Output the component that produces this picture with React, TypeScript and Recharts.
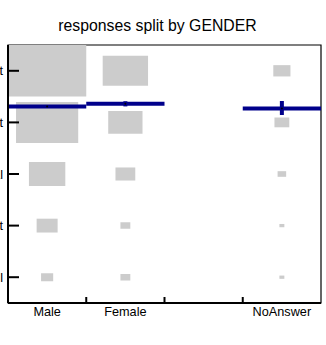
import React from "react";
import {
  ComposedChart,
  XAxis,
  YAxis,
  ReferenceArea,
  ReferenceLine,
  ReferenceDot,
} from "recharts";

// Categories (x) – third slot is an empty gap category
const genders = ["Male", "Female", "", "NoAnswer"];
// Response levels (y, top to bottom)
const levels = ["Very important", "Important", "Neutral", "Unimportant", "Not at all"];

// Counts per response level for each gender (box size ~ sqrt(count))
const maleCounts = [250, 158, 54, 18, 6];
const femaleCounts = [84, 48, 16, 4, 4];
const gapCounts = [0, 0, 0, 0, 0];
const noAnswerCounts = [12, 9, 3, 1, 1];

// Mean response level and its interval per gender
const meanValues = [1.69, 1.64, null, 1.73];
const meanLow = [1.67, 1.59, null, 1.585];
const meanHigh = [1.71, 1.69, null, 1.857];

const title = "responses split by GENDER";

const countTable = [maleCounts, femaleCounts, gapCounts, noAnswerCounts];
const maxCount = Math.max(...countTable.flat());

const FONT = "'Liberation Sans', Arial, sans-serif";
const BLUE = "#00008B";
const GREY = "#CCCCCC";

const XTick = (props: any) => {
  const { x, y, payload } = props;
  const v = payload.value as number;
  if (Number.isInteger(v)) {
    return <line x1={x} x2={x} y1={y} y2={y - 6} stroke="#000" strokeWidth={2} />;
  }
  const label = genders[Math.floor(v)];
  return (
    <text x={x} y={y + 12.7} textAnchor="middle" fontFamily={FONT} fontSize={12.7} fill="#000">
      {label}
    </text>
  );
};

const YTick = (props: any) => {
  const { x, y, payload } = props;
  const label = levels[(payload.value as number) - 1];
  return (
    <g>
      <line x1={x} x2={x + 11} y1={y} y2={y} stroke="#000" strokeWidth={2} />
      <text x={x - 5} y={y} dy="0.355em" textAnchor="end" fontFamily={FONT} fontSize={12.7} fill="#000">
        {label}
      </text>
    </g>
  );
};

export default function App() {
  const boxes: React.ReactNode[] = [];
  countTable.forEach((counts, gi) => {
    counts.forEach((c, li) => {
      if (c <= 0) return;
      const f = Math.sqrt(c / maxCount) / 2;
      const cx = gi + 0.5;
      const cy = li + 1;
      boxes.push(
        <ReferenceArea
          key={`b-${gi}-${li}`}
          x1={cx - f}
          x2={cx + f}
          y1={cy - f}
          y2={cy + f}
          fill={GREY}
          fillOpacity={1}
          stroke="none"
          ifOverflow="visible"
        />
      );
    });
  });

  const means: React.ReactNode[] = [];
  meanValues.forEach((m, gi) => {
    if (m == null) return;
    const lo = meanLow[gi] as number;
    const hi = meanHigh[gi] as number;
    means.push(
      <ReferenceLine
        key={`m-${gi}`}
        segment={[
          { x: gi, y: m },
          { x: gi + 1, y: m },
        ]}
        stroke={BLUE}
        strokeWidth={4}
        ifOverflow="visible"
      />,
      <ReferenceLine
        key={`e-${gi}`}
        segment={[
          { x: gi + 0.5, y: lo },
          { x: gi + 0.5, y: hi },
        ]}
        stroke={BLUE}
        strokeWidth={4}
        ifOverflow="visible"
      />,
      <ReferenceDot
        key={`d-${gi}`}
        x={gi + 0.5}
        y={m}
        r={1}
        fill="#000"
        stroke="none"
        ifOverflow="visible"
      />
    );
  });

  return (
    <div style={{ position: "absolute", left: 0, top: 0, width: 326, height: 345 }}>
      <div
        style={{
          position: "absolute",
          left: 0,
          top: 17.7,
          width: 315,
          textAlign: "center",
          fontFamily: FONT,
          fontSize: 15.8,
          lineHeight: "15px",
          color: "#000",
        }}
      >
        {title}
      </div>
      <ComposedChart
        width={326}
        height={345}
        data={[]}
        margin={{ top: 45, right: 5, bottom: 0, left: 0 }}
      >
        <XAxis
          type="number"
          dataKey="x"
          domain={[0, 4]}
          ticks={[0.5, 1, 1.5, 2, 2.5, 3, 3.5]}
          interval={0}
          height={42}
          tickSize={0}
          tickMargin={0}
          tickLine={false}
          axisLine={{ stroke: "#000", strokeWidth: 2 }}
          tick={<XTick />}
          allowDataOverflow
        />
        <YAxis
          type="number"
          dataKey="y"
          domain={[0.5, 5.5]}
          reversed
          ticks={[1, 2, 3, 4, 5]}
          interval={0}
          width={8}
          tickSize={0}
          tickMargin={0}
          tickLine={false}
          axisLine={{ stroke: "#000", strokeWidth: 2 }}
          tick={<YTick />}
          allowDataOverflow
        />
        <ReferenceArea
          x1={0}
          x2={4}
          y1={0.5}
          y2={5.5}
          fill="none"
          stroke="#000"
          strokeWidth={1.2}
          ifOverflow="visible"
        />
        {boxes}
        {means}
      </ComposedChart>
    </div>
  );
}
